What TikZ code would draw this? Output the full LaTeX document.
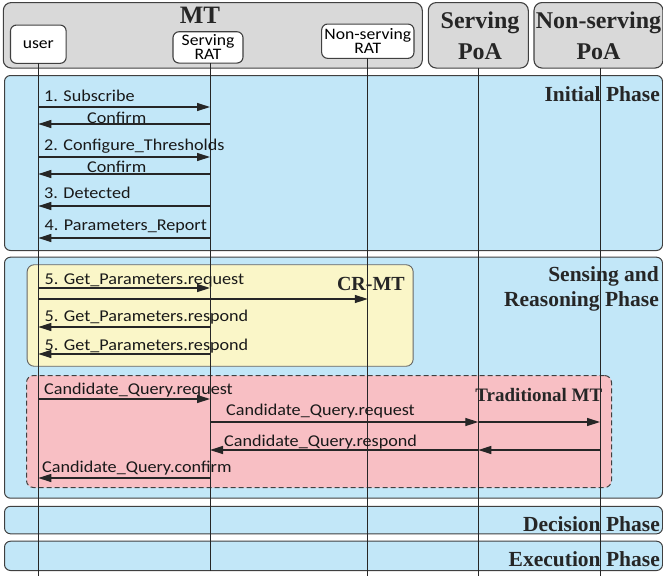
\documentclass[tikz,border=0pt]{standalone}
\usepackage{fontspec}
\setmainfont{Liberation Serif}
\newfontfamily\cfont[FakeStretch=1.1]{Carlito}
\usetikzlibrary{arrows.meta}
\definecolor{hdr}{RGB}{217,217,217}
\definecolor{edge}{RGB}{64,64,64}
\definecolor{phblue}{RGB}{194,231,248}
\definecolor{yel}{RGB}{250,246,200}
\definecolor{pink}{RGB}{248,191,196}
\tikzset{
  hbox/.style={draw=edge, fill=hdr, rounded corners=8pt, line width=1.1pt},
  actor/.style={draw=edge, fill=white, rounded corners=6pt, line width=1.1pt, inner sep=0pt, align=center,
    font=\cfont\fontsize{16}{14}\selectfont},
  phase/.style={draw=edge, fill=phblue, rounded corners=6pt, line width=1pt, anchor=north west, inner sep=0pt},
  crbox/.style={draw=edge!80, fill=yel, rounded corners=7pt, line width=0.9pt, anchor=north west, inner sep=0pt},
  trbox/.style={draw=edge, fill=pink, rounded corners=7pt, line width=1pt, dashed, dash pattern=on 5pt off 3pt, anchor=north west, inner sep=0pt},
  lifeline/.style={line width=0.9pt, draw=black!85},
  msg/.style={line width=1.25pt, draw=black!85, -{Triangle[length=13pt,width=8pt]}},
  lbl/.style={font=\cfont\fontsize{16.5}{18}\selectfont, anchor=base west, inner sep=0pt, text=black!90},
  ttl/.style={font=\bfseries\fontsize{24}{26}\selectfont, anchor=base, inner sep=0pt, text=black!85},
  phl/.style={font=\bfseries\fontsize{21.5}{23}\selectfont, anchor=base east, inner sep=0pt, text=black!85},
}
\begin{document}
\begin{tikzpicture}[x=1pt,y=-1pt]
\useasboundingbox (0,0) rectangle (663,576);
% header boxes
\node[hbox, minimum width=419pt, minimum height=65.5pt] (mt) at (212.8,35.3) {};
\node[hbox, minimum width=100pt, minimum height=65.5pt] (spoa) at (478.3,35.3) {};
\node[hbox, minimum width=129pt, minimum height=65.5pt] (npoa) at (598.5,35.3) {};
\node[ttl, font=\bfseries\fontsize{25}{27}\selectfont] (mtl) at (200,23.3) {MT};
\node[ttl] (spoa1) at (480,28.3) {Serving};
\node[ttl] (spoa2) at (480,59) {PoA};
\node[ttl] (npoa1) at (598.5,28.3) {Non-serving};
\node[ttl] (npoa2) at (598.5,59) {PoA};
% actors
\node[actor, minimum width=55.7pt, minimum height=38.3pt] (user) at (38.3,44.2) {user};
\node[actor, minimum width=70pt, minimum height=31.3pt] (srat) at (208,47.4) {Serving\\RAT};
\node[actor, minimum width=92.3pt, minimum height=34.3pt] (nrat) at (367.8,41.2) {Non-serving\\RAT};
% lifeline anchors
\coordinate (uL) at (38.3,63.3);
\coordinate (sL) at (210,63);
\coordinate (nL) at (367.8,58.3);
\coordinate (pL) at (478.3,68);
\coordinate (qL) at (600,68);
% phases
\node[phase, minimum width=658pt, minimum height=175pt] (ph1) at (4,75) {};
\node[phase, minimum width=658pt, minimum height=241pt] (ph2) at (4,256.7) {};
\node[phase, minimum width=658pt, minimum height=27.5pt] (ph3) at (4,505.8) {};
\node[phase, minimum width=658pt, minimum height=29.3pt] (ph4) at (4,540.7) {};
% inner boxes
\node[crbox, minimum width=386pt, minimum height=101.5pt] (cr) at (26.7,264.3) {};
\node[trbox, minimum width=585pt, minimum height=112pt] (tr) at (26,375) {};
% lifelines
\draw[lifeline] (uL) -- (uL |- 0,576);
\draw[lifeline] (sL) -- (sL |- 0,571);
\draw[lifeline] (nL) -- (nL |- 0,576);
\draw[lifeline] (pL) -- (pL |- 0,576);
\draw[lifeline] (qL) -- (qL |- 0,576);
% phase labels
\node[phl] (l1) at (660,101) {Initial Phase};
\node[phl] (l2a) at (659,281.7) {Sensing and};
\node[phl] (l2b) at (659,306.7) {Reasoning Phase};
\node[phl] (l3) at (660,531.7) {Decision Phase};
\node[phl] (l4) at (660,566.7) {Execution Phase};
\node[phl, font=\bfseries\fontsize{20}{22}\selectfont] (crl) at (405,290) {CR-MT};
\node[phl, font=\bfseries\fontsize{19}{22}\selectfont] (trl) at (602.5,401.5) {Traditional MT};
% Initial phase messages
\node[lbl] (t1) at (44,101) {1. Subscribe};
\draw[msg] (uL |- 0,107) -- (sL |- 0,107);
\node[lbl] (t2) at (87,123) {Confirm};
\draw[msg] (sL |- 0,124) -- (uL |- 0,124);
\node[lbl] (t3) at (44,150) {2. Configure\_Thresholds};
\draw[msg] (uL |- 0,157) -- (sL |- 0,157);
\node[lbl] (t4) at (87,172) {Confirm};
\draw[msg] (sL |- 0,174) -- (uL |- 0,174);
\node[lbl] (t5) at (44,198) {3. Detected};
\draw[msg] (sL |- 0,206) -- (uL |- 0,206);
\node[lbl] (t6) at (44.5,230.5) {4. Parameters\_Report};
\draw[msg] (sL |- 0,238) -- (uL |- 0,238);
% Sensing phase messages
\node[lbl] (t7) at (44.5,284) {5. Get\_Parameters.request};
\draw[msg] (uL |- 0,288) -- (sL |- 0,288);
\draw[msg] (uL |- 0,299) -- (nL |- 0,299);
\node[lbl] (t8) at (44.5,321) {5. Get\_Parameters.respond};
\draw[msg] (sL |- 0,327) -- (uL |- 0,327);
\node[lbl] (t9) at (44.5,350) {5. Get\_Parameters.respond};
\draw[msg] (sL |- 0,354) -- (uL |- 0,354);
% Traditional MT
\node[lbl] (t10) at (44,394) {Candidate\_Query.request};
\draw[msg] (uL |- 0,399) -- (sL |- 0,399);
\node[lbl] (t11) at (226,415) {Candidate\_Query.request};
\draw[msg] (sL |- 0,422) -- (pL |- 0,422);
\draw[msg] (pL |- 0,422) -- (qL |- 0,422);
\node[lbl] (t12) at (224,446) {Candidate\_Query.respond};
\draw[msg] (qL |- 0,450) -- (pL |- 0,450);
\draw[msg] (pL |- 0,450) -- (sL |- 0,450);
\node[lbl] (t13) at (42,472.5) {Candidate\_Query.confirm};
\draw[msg] (sL |- 0,478) -- (uL |- 0,478);
\end{tikzpicture}
\end{document}
